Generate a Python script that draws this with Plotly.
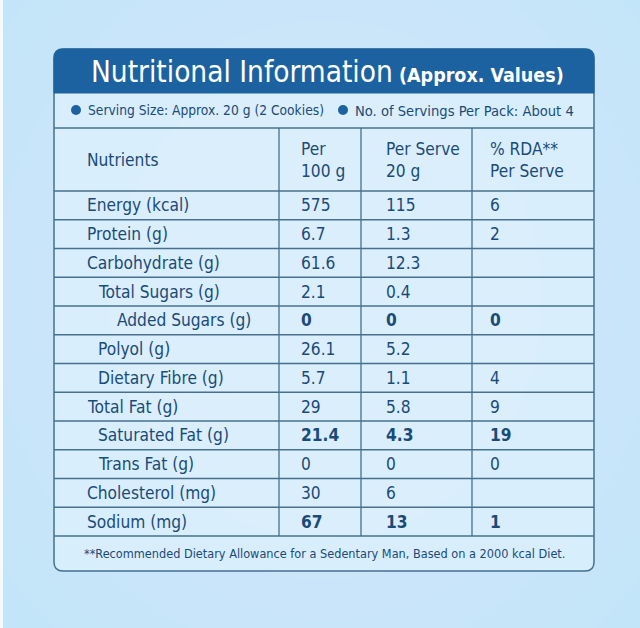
import plotly.graph_objects as go

# datos de la tabla
nutrients = ["Energy (kcal)", "Protein (g)", "Carbohydrate (g)", "Total Sugars (g)",
             "Added Sugars (g)", "Polyol (g)", "Dietary Fibre (g)", "Total Fat (g)",
             "Saturated Fat (g)", "Trans Fat (g)", "Cholesterol (mg)", "Sodium (mg)"]
indent = [0, 0, 0, 1, 2, 1, 1, 0, 1, 1, 0, 0]
per_100g = ["575", "6.7", "61.6", "2.1", "0", "26.1", "5.7", "29", "21.4", "0", "30", "67"]
per_serve = ["115", "1.3", "12.3", "0.4", "0", "5.2", "1.1", "5.8", "4.3", "0", "6", "13"]
rda = ["6", "2", "", "", "0", "", "4", "9", "19", "0", "", "1"]
bold_rows = ["Added Sugars (g)", "Saturated Fat (g)", "Sodium (mg)"]

col_headers = ["Nutrients", "Per<br>100 g", "Per Serve<br>20 g", "% RDA**<br>Per Serve"]
title = "Nutritional Information"
subtitle = "(Approx. Values)"
serving_1 = "Serving Size: Approx. 20 g (2 Cookies)"
serving_2 = "No. of Servings Per Pack: About 4"
footnote = "**Recommended Dietary Allowance for a Sedentary Man, Based on a 2000 kcal Diet."

FONT = "DejaVu Sans Condensed, Liberation Sans Narrow, Roboto, sans-serif"
NAVY = "#1a4b78"
BLUE = "#1d62a0"
LINE = "#46708f"
BODY = 17.2

# geometria (pixeles)
L, R, TOP, BOT = 54, 594, 49, 571
band_b, serv_b, head_b = 93, 128, 191
row_h = 28.75
col_x = [279, 361, 472]
text_x = [299, 384, 488]
indent_x = [85, 96, 115]
rows_b = head_b + row_h * len(nutrients)

fig = go.Figure()
shapes = []
ann = []

# brillo suave del fondo (elipses concentricas)
for k in range(10):
    rx = 520 - k * 38
    ry = 560 - k * 40
    shapes.append(dict(type="circle", x0=325 - rx, x1=325 + rx, y0=300 - ry, y1=300 + ry,
                       line_width=0, fillcolor="rgba(255,255,255,0.035)", layer="below"))
shapes.append(dict(type="rect", x0=0, x1=3, y0=0, y1=628, line_width=0,
                   fillcolor="#f4fbfe", layer="below"))

rr = 9
# cuerpo de la tabla
shapes.append(dict(type="path", layer="below",
                   path=f"M {L},{TOP+rr} L {L},{BOT-rr} Q {L},{BOT} {L+rr},{BOT} L {R-rr},{BOT} "
                        f"Q {R},{BOT} {R},{BOT-rr} L {R},{TOP+rr} Q {R},{TOP} {R-rr},{TOP} "
                        f"L {L+rr},{TOP} Q {L},{TOP} {L},{TOP+rr} Z",
                   fillcolor="rgba(236,248,254,0.45)", line=dict(color=LINE, width=1.5)))
# banda del titulo
shapes.append(dict(type="path",
                   path=f"M {L},{band_b} L {L},{TOP+rr} Q {L},{TOP} {L+rr},{TOP} L {R-rr},{TOP} "
                        f"Q {R},{TOP} {R},{TOP+rr} L {R},{band_b} Z",
                   fillcolor=BLUE, line=dict(color=BLUE, width=1)))

# lineas horizontales
for y in [serv_b, head_b] + [head_b + row_h * (i + 1) for i in range(len(nutrients))]:
    shapes.append(dict(type="line", x0=L, x1=R, y0=y, y1=y, line=dict(color=LINE, width=1.3)))
# lineas verticales
for x in col_x:
    shapes.append(dict(type="line", x0=x, x1=x, y0=serv_b, y1=rows_b, line=dict(color=LINE, width=1.3)))

# titulo
ann.append(dict(x=89, y=72, text=title, xanchor="left", yanchor="middle", showarrow=False,
                font=dict(family=FONT, size=29.5, color="white")))
ann.append(dict(x=397, y=75, text=subtitle, xanchor="left", yanchor="middle", showarrow=False,
                font=dict(family=FONT, size=19.5, color="white", weight="bold")))

# linea de porcion
for bx, txt, sz in [(76, serving_1, 13.7), (343, serving_2, 14.6)]:
    shapes.append(dict(type="circle", x0=bx - 5, x1=bx + 5, y0=105, y1=115,
                       fillcolor=BLUE, line_width=0))
    ann.append(dict(x=bx + 10, y=110, text=txt, xanchor="left", yanchor="middle", showarrow=False,
                    font=dict(family=FONT, size=sz, color=NAVY)))

# encabezados
head_y = (serv_b + head_b) / 2
for i, h in enumerate(col_headers):
    x = indent_x[0] if i == 0 else text_x[i - 1]
    ann.append(dict(x=x, y=head_y, text=h, xanchor="left", yanchor="middle", showarrow=False,
                    align="left", font=dict(family=FONT, size=BODY, color=NAVY)))

# filas
for i, name in enumerate(nutrients):
    y = head_b + row_h * (i + 0.5)
    ann.append(dict(x=indent_x[indent[i]], y=y, text=name, xanchor="left", yanchor="middle",
                    showarrow=False, font=dict(family=FONT, size=BODY, color=NAVY)))
    w = "bold" if name in bold_rows else "normal"
    for j, vals in enumerate([per_100g, per_serve, rda]):
        if vals[i]:
            ann.append(dict(x=text_x[j], y=y, text=vals[i], xanchor="left", yanchor="middle",
                            showarrow=False, font=dict(family=FONT, size=BODY, color=NAVY, weight=w)))

# nota al pie
ann.append(dict(x=(L + R) / 2, y=(rows_b + BOT) / 2, text=footnote, xanchor="center",
                yanchor="middle", showarrow=False, font=dict(family=FONT, size=12.6, color=NAVY)))

fig.update_layout(
    width=640, height=628,
    margin=dict(l=0, r=0, t=0, b=0),
    paper_bgcolor="#bde5f9", plot_bgcolor="rgba(0,0,0,0)",
    xaxis=dict(range=[0, 640], visible=False, fixedrange=True),
    yaxis=dict(range=[628, 0], visible=False, fixedrange=True),
    shapes=shapes, annotations=ann, showlegend=False,
)

fig.write_html("out.html", config={"displayModeBar": False},
               post_script="document.body.style.margin='0';document.body.style.overflow='hidden';")
